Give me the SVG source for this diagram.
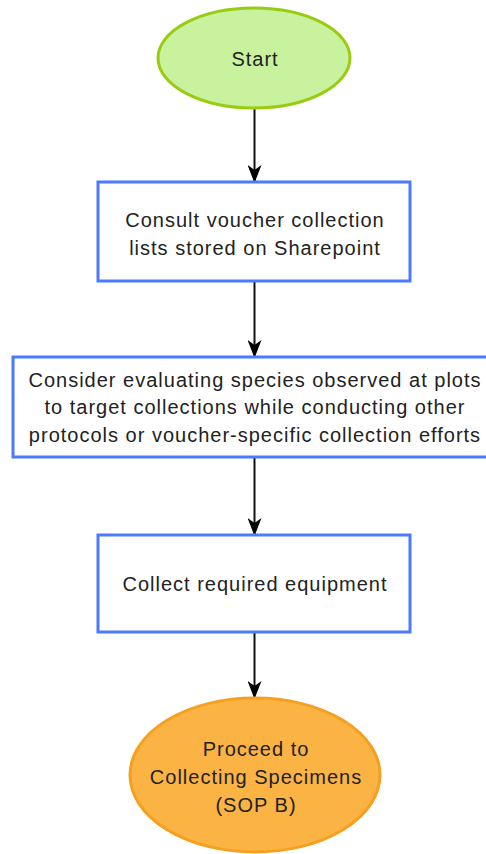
<svg xmlns="http://www.w3.org/2000/svg" width="486" height="854" viewBox="0 0 486 854">
  <style>
    .txt { font-family: "Liberation Sans", Arial, sans-serif; font-size: 20px; letter-spacing: 1px; fill: #222; text-anchor: middle; }
    .box { fill: #ffffff; stroke: #4a7bff; stroke-width: 3; }
    .edge { stroke: #111; stroke-width: 2; fill: none; marker-end: url(#arrow); }
  </style>
  <defs>
    <marker id="arrow" viewBox="0 0 18 14" refX="17" refY="7" markerWidth="18" markerHeight="14" markerUnits="userSpaceOnUse" orient="auto">
      <path d="M0,0 L18,7 L0,14 L5,7 Z" fill="#000"/>
    </marker>
  </defs>
  <rect width="486" height="854" fill="#ffffff"/>

  <g id="connectors">
    <line class="edge" x1="254.5" y1="108" x2="254.5" y2="182"/>
    <line class="edge" x1="254.5" y1="282" x2="254.5" y2="357"/>
    <line class="edge" x1="254.5" y1="458" x2="254.5" y2="535"/>
    <line class="edge" x1="254.5" y1="633" x2="254.5" y2="698"/>
  </g>

  <g id="start">
    <ellipse cx="254" cy="58" rx="96" ry="50" fill="#c8f29e" stroke="#99cc11" stroke-width="3"/>
    <text class="txt" x="255" y="66">Start</text>
  </g>

  <g id="consult">
    <rect class="box" x="98" y="182" width="312" height="99"/>
    <text class="txt" x="255" y="227">Consult voucher collection</text>
    <text class="txt" x="255" y="255">lists stored on Sharepoint</text>
  </g>

  <g id="consider">
    <rect class="box" x="13" y="357" width="484" height="100"/>
    <text class="txt" x="255" y="387">Consider evaluating species observed at plots</text>
    <text class="txt" x="255" y="414">to target collections while conducting other</text>
    <text class="txt" x="255" y="442">protocols or voucher-specific collection efforts</text>
  </g>

  <g id="equipment">
    <rect class="box" x="98" y="535" width="312" height="97"/>
    <text class="txt" x="255" y="591">Collect required equipment</text>
  </g>

  <g id="proceed">
    <ellipse cx="255" cy="775" rx="125" ry="77" fill="#fbb444" stroke="#f5a020" stroke-width="3"/>
    <text class="txt" x="256" y="756">Proceed to</text>
    <text class="txt" x="256" y="784">Collecting Specimens</text>
    <text class="txt" x="256" y="812">(SOP B)</text>
  </g>
</svg>
